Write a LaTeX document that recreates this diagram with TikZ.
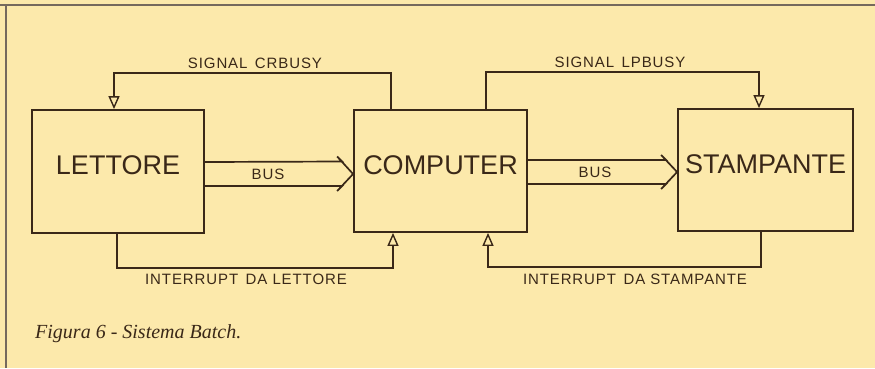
\documentclass[tikz,border=0pt]{standalone}
\usepackage{fontspec}
\setmainfont{Liberation Serif}
\newfontfamily\handfont{Liberation Sans}
\newfontfamily\handwide[LetterSpace=6]{Liberation Sans}
\usepackage{tikz}
\usetikzlibrary{positioning,arrows.meta,calc}

\definecolor{paper}{RGB}{252,233,171}
\definecolor{ink}{RGB}{58,40,24}

\begin{document}
\begin{tikzpicture}[
  x=1pt, y=-1pt,
  unit/.style={rectangle, draw=ink, line width=1.8pt, text=ink, inner sep=0pt, font=\handfont\fontsize{27}{27}\selectfont, text height=20pt, text depth=14pt},
  sig/.style={draw=ink, line width=1.4pt, -{Triangle[open, width=11pt, length=13pt]}},
  bus/.style={draw=ink, line width=1.7pt, line join=miter},
  lbl/.style={text=ink, font=\handwide\fontsize{15}{15}\selectfont, inner sep=0pt},
]
% paper and frame
\fill[paper] (0,0) rectangle (875,368);
\useasboundingbox (0,0) rectangle (875,368);
\draw[ink!70, line width=1.6pt] (0,5) -- (875,5);
\draw[ink!70, line width=1.6pt] (6,5) -- (6,368);

% units
\node[unit, minimum width=172pt, minimum height=123pt] (lett) at (118,171.5) {LETTORE};
\node[unit, minimum width=173pt, minimum height=122pt] (comp) at (440.5,171) {COMPUTER};
\node[unit, minimum width=175pt, minimum height=122pt] (stam) at (765.5,170) {STAMPANTE};

% bus lines
\draw[bus] ([yshift=9.5pt]lett.east) -- ([xshift=-11pt,yshift=9.5pt]comp.west) -- ++(-5,-5)
  -- ([yshift=-3pt]comp.west) -- ++(-16,17) -- ++(5,-5) -- ([yshift=-14.5pt]lett.east);
\draw[bus] ([yshift=11pt]comp.east) -- ([xshift=-11pt,yshift=10pt]stam.west) -- ++(-5,-5)
  -- ([yshift=-2pt]stam.west) -- ++(-16,17) -- ++(5,-5) -- ([yshift=-13pt]comp.east);
\node[lbl] (bus1) at (268,174) {BUS};
\node[lbl] (bus2) at (595,172) {BUS};

% busy signals
\draw[sig] ([xshift=-49.5pt]comp.north) -- ++(0,-36) -| ([xshift=-4pt]lett.north);
\draw[sig] ([xshift=45.5pt]comp.north) -- ++(0,-37) -| ([xshift=-6.5pt]stam.north);
\node[lbl] (crbusy) at (255,63) {SIGNAL\enspace CRBUSY};
\node[lbl] (lpbusy) at (620,62) {SIGNAL\enspace LPBUSY};

% interrupts
\draw[sig] ([xshift=-1pt]lett.south) -- ++(0,34) -| ([xshift=-47.5pt]comp.south);
\draw[sig] ([xshift=-4.5pt]stam.south) -- ++(0,35) -| ([xshift=47.5pt]comp.south);
\node[lbl] (intl) at (246,279) {INTERRUPT\enspace DA LETTORE};
\node[lbl] (ints) at (635,279) {INTERRUPT\enspace DA STAMPANTE};

% caption
\node[anchor=base west, inner sep=0pt, text=ink, font=\itshape\fontsize{20}{20}\selectfont] (cap) at (35,338) {Figura 6 - Sistema Batch.};
\end{tikzpicture}
\end{document}
